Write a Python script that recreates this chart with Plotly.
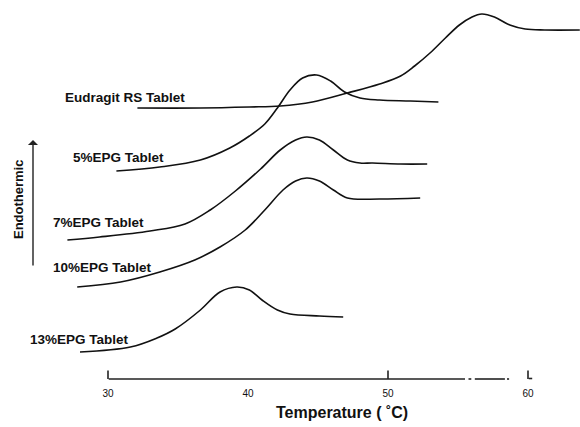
import plotly.graph_objects as go

# Temperature (deg C) and relative heat flow (arbitrary units, curves offset)
eud_T = [32.1, 36.6, 40.1, 42.3, 44.6, 47.1, 49.4, 50.9, 51.9, 53.0, 54.1, 55.1, 56.0, 56.7, 57.6, 58.7, 59.8, 61.2, 63.7]
eud_y = [27.3, 27.3, 27.4, 27.5, 27.9, 28.8, 29.7, 30.5, 31.5, 32.8, 34.3, 35.6, 36.4, 36.7, 36.4, 35.6, 35.2, 35.1, 35.1]

epg5_T = [30.6, 33.7, 36.6, 38.7, 40.1, 41.2, 42.1, 43.0, 43.9, 44.9, 45.9, 46.9, 48.0, 49.4, 51.6, 53.6]
epg5_y = [21.0, 21.4, 22.1, 23.3, 24.5, 25.7, 27.3, 29.1, 30.3, 30.6, 30.0, 28.9, 28.3, 28.1, 28.0, 27.9]

epg7_T = [27.1, 29.4, 33.0, 35.5, 37.3, 39.1, 40.9, 42.3, 43.4, 44.2, 45.1, 46.1, 47.1, 48.0, 48.9, 50.9, 52.8]
epg7_y = [14.1, 14.4, 15.0, 15.7, 17.1, 19.0, 21.2, 23.1, 24.1, 24.4, 24.1, 23.1, 22.1, 21.8, 21.8, 21.7, 21.7]

epg10_T = [27.8, 30.9, 33.7, 36.2, 38.0, 39.8, 41.2, 42.5, 43.4, 44.2, 45.1, 46.1, 47.1, 49.4, 52.3]
epg10_y = [9.4, 9.9, 10.9, 12.1, 13.4, 15.1, 17.1, 19.1, 20.0, 20.3, 20.0, 19.1, 18.3, 18.2, 18.3]

epg13_T = [28.0, 31.6, 33.5, 34.8, 36.6, 38.0, 39.2, 40.1, 41.0, 42.1, 43.0, 45.1, 46.8]
epg13_y = [2.9, 3.4, 4.3, 5.2, 7.1, 8.9, 9.4, 9.1, 8.1, 7.1, 6.7, 6.5, 6.4]

labels = ["Eudragit RS Tablet", "5%EPG Tablet", "7%EPG Tablet", "10%EPG Tablet", "13%EPG Tablet"]
tick_vals = [30, 40, 50, 60]
tick_text = ["30", "40", "50", "60"]

series = [(eud_T, eud_y), (epg5_T, epg5_y), (epg7_T, epg7_y), (epg10_T, epg10_y), (epg13_T, epg13_y)]

fig = go.Figure()
for (t, y), name in zip(series, labels):
    fig.add_trace(go.Scatter(x=t, y=y, mode="lines", name=name,
                             line=dict(color="#111111", width=1.6, shape="spline", smoothing=1.0),
                             showlegend=False, hoverinfo="skip"))

INK = "#111111"
FONT = "Liberation Sans, Arial, sans-serif"

def px_T(px):
    return 30 + (px - 108) / 14

# curve labels (left edge in pixels, vertical centre in data units)
label_pos = [(px_T(63), 28.4), (px_T(71), 22.4), (px_T(51), 15.9), (px_T(51), 11.4), (px_T(28), 4.2)]
for (lx, ly), name in zip(label_pos, labels):
    fig.add_annotation(x=lx, y=ly, text="<b>" + name + "</b>", showarrow=False,
                       xanchor="left", yanchor="middle",
                       font=dict(family=FONT, size=13.5, color=INK))

# axis line with a small break, and tick marks
shp = dict(type="line", xref="x", yref="y", line=dict(color="#222222", width=1.6))
fig.add_shape(x0=30.05, x1=55.5, y0=0.2, y1=0.2, **shp)
fig.add_shape(x0=55.75, x1=55.95, y0=0.2, y1=0.2, **shp)
fig.add_shape(x0=56.2, x1=58.35, y0=0.2, y1=0.2, **shp)
fig.add_shape(x0=58.5, x1=58.65, y0=0.2, y1=0.2, **shp)
for tv in [30, 50, 60]:
    fig.add_shape(x0=tv, x1=tv, y0=0.2, y1=1.05, **shp)
fig.add_shape(x0=60.05, x1=60.3, y0=0.25, y1=0.25, **shp)

# axis title
fig.add_annotation(xref="paper", yref="paper", x=342 / 580, y=-31 / 381,
                   text="<b>Temperature ( \u02daC)</b>", showarrow=False,
                   xanchor="center", yanchor="middle",
                   font=dict(family=FONT, size=16, color=INK))

# Endothermic arrow
fig.add_annotation(xref="paper", yref="paper", x=33 / 580, y=(381 - 140) / 381,
                   ax=0, ay=127, axref="pixel", ayref="pixel",
                   text="", showarrow=True, arrowhead=1, arrowsize=1.2, arrowwidth=1.4,
                   arrowcolor="#222222")
fig.add_annotation(xref="paper", yref="paper", x=18 / 580, y=(381 - 200) / 381,
                   text="<b>Endothermic</b>", textangle=-90, showarrow=False,
                   xanchor="center", yanchor="middle",
                   font=dict(family=FONT, size=13, color=INK))

fig.update_layout(
    width=580, height=427,
    margin=dict(l=0, r=0, t=0, b=46),
    paper_bgcolor="white", plot_bgcolor="white",
    font=dict(family=FONT, color=INK),
    xaxis=dict(range=[30 - 108 / 14, 30 + 472 / 14], showgrid=False, zeroline=False,
               showline=False, ticks="", tickvals=tick_vals, ticktext=tick_text,
               ticklabelstandoff=5,
               tickfont=dict(family=FONT, size=10, color=INK)),
    yaxis=dict(range=[0, 38.1], visible=False, showgrid=False, zeroline=False),
)

fig.write_html("out.html")
